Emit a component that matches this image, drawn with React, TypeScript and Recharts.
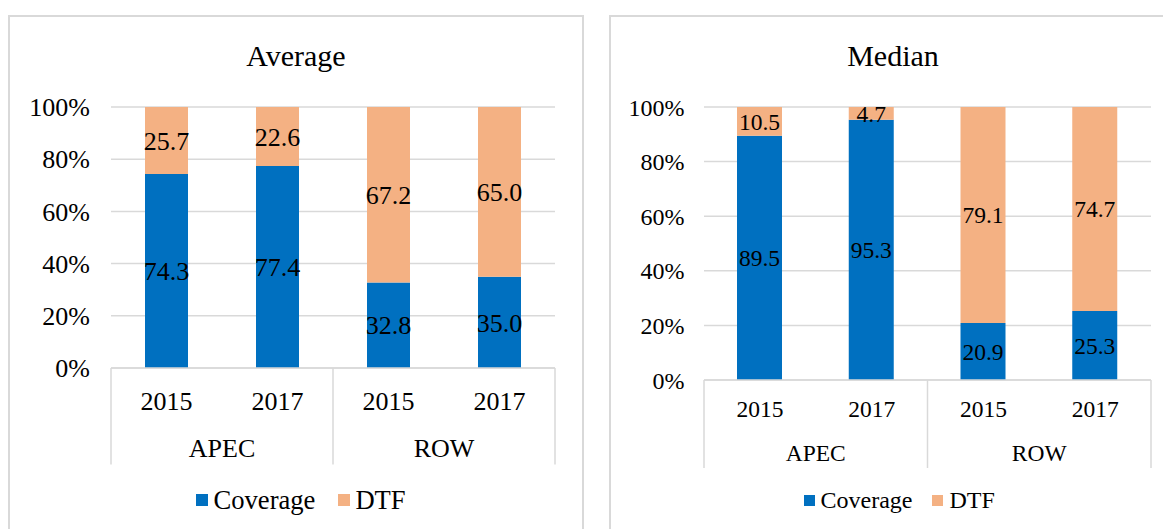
import React from 'react';
import { BarChart, Bar, XAxis, YAxis, CartesianGrid, Legend, LabelList } from 'recharts';

// ---- data ----
const years = ['2015', '2017', '2015', '2017'];
const groups = ['APEC', 'APEC', 'ROW', 'ROW'];
const avgCoverage = [74.3, 77.4, 32.8, 35.0];
const avgDTF = [25.7, 22.6, 67.2, 65.0];
const medCoverage = [89.5, 95.3, 20.9, 25.3];
const medDTF = [10.5, 4.7, 79.1, 74.7];
const yTicks = [0, 20, 40, 60, 80, 100];
const seriesNames = ['Coverage', 'DTF'];
const titles = ['Average', 'Median'];

const FONT = '"Liberation Serif", "Times New Roman", serif';
const GRID = '#d9d9d9';
const COLORS = ['#0070C0', '#F4B183'];

const build = (cov: number[], dtf: number[]) =>
  years.map((y, i) => ({ year: y, group: groups[i], [seriesNames[0]]: cov[i], [seriesNames[1]]: dtf[i] }));

type Cfg = {
  left: number; width: number; height: number;
  margin: { top: number; right: number; bottom: number; left: number };
  yAxisWidth: number; yTickMargin: number; yFont: number;
  xAxisHeight: number; yearDy: number; groupDy: number; lineLen: number; xFont: number;
  labelFont: number; barSize: number;
  legendLeft: number; legendTop: number; legendFont: number; icon: number; iconGap: number; itemGap: number;
  titleX: number;
};

const makeTick = (cfg: Cfg) => (props: any) => {
  const { x, y, payload } = props;
  const i: number = payload.index ?? props.index;
  const half: number = payload.offset ?? 0;
  const isGroupStart = i === 0 || groups[i] !== groups[i - 1];
  const isLast = i === years.length - 1;
  let count = 0;
  if (isGroupStart) {
    for (let k = i; k < groups.length && groups[k] === groups[i]; k++) count++;
  }
  return (
    <g>
      <text x={x} y={y + cfg.yearDy} textAnchor="middle" fontSize={cfg.xFont} fill="#000" fontFamily={FONT}>
        {payload.value}
      </text>
      {isGroupStart && (
        <>
          <line x1={x - half} x2={x - half} y1={y} y2={y + cfg.lineLen} stroke={GRID} strokeWidth={1.5} />
          <text x={x - half + count * half} y={y + cfg.groupDy} textAnchor="middle" fontSize={cfg.xFont} fill="#000" fontFamily={FONT}>
            {groups[i]}
          </text>
        </>
      )}
      {isLast && <line x1={x + half} x2={x + half} y1={y} y2={y + cfg.lineLen} stroke={GRID} strokeWidth={1.5} />}
    </g>
  );
};

const makeLegend = (cfg: Cfg) => (props: any) => {
  const payload = props.payload || [];
  return (
    <div
      style={{
        display: 'flex', alignItems: 'center', paddingLeft: cfg.legendLeft,
        fontFamily: FONT, fontSize: cfg.legendFont, lineHeight: '30px', color: '#000', height: 30,
      }}
    >
      {payload.map((p: any, i: number) => (
        <div key={i} style={{ display: 'flex', alignItems: 'center', marginRight: cfg.itemGap, whiteSpace: 'nowrap' }}>
          <span style={{ display: 'inline-block', width: cfg.icon, height: cfg.icon, background: p.color, marginRight: cfg.iconGap }} />
          <span>{p.value}</span>
        </div>
      ))}
    </div>
  );
};

const Panel = ({ cfg, cov, dtf }: { cfg: Cfg; cov: number[]; dtf: number[] }) => {
  const data = build(cov, dtf);
  const fmt = (v: any) => Number(v).toFixed(1);
  return (
    <div style={{ position: 'absolute', left: cfg.left, top: 0, width: cfg.width, height: cfg.height }}>
      <BarChart width={cfg.width} height={cfg.height} data={data} margin={cfg.margin}>
        <CartesianGrid horizontal vertical={false} stroke={GRID} strokeWidth={1.5} />
        <XAxis
          dataKey="year"
          height={cfg.xAxisHeight}
          axisLine={{ stroke: GRID, strokeWidth: 1.5 }}
          tickLine={false}
          tickSize={0}
          tickMargin={0}
          interval={0}
          tick={makeTick(cfg)}
        />
        <YAxis
          domain={[0, 100]}
          ticks={yTicks}
          interval={0}
          width={cfg.yAxisWidth}
          axisLine={false}
          tickLine={false}
          tickSize={0}
          tickMargin={cfg.yTickMargin}
          tickFormatter={(v: number) => `${v}%`}
          tick={{ fill: '#000', fontSize: cfg.yFont, fontFamily: FONT }}
        />
        <Legend
          verticalAlign="middle"
          align="center"
          layout="horizontal"
          wrapperStyle={{ top: cfg.legendTop, left: 0, width: cfg.width, height: 30 }}
          content={makeLegend(cfg)}
        />
        {seriesNames.map((s, idx) => (
          <Bar key={s} dataKey={s} stackId="a" fill={COLORS[idx]} barSize={cfg.barSize} isAnimationActive={false}>
            <LabelList dataKey={s} position="center" fill="#000" fontSize={cfg.labelFont} fontFamily={FONT} formatter={fmt} />
          </Bar>
        ))}
      </BarChart>
    </div>
  );
};

const leftCfg: Cfg = {
  left: 0, width: 600, height: 529,
  margin: { top: 107, right: 45, bottom: 61, left: 0 },
  yAxisWidth: 111, yTickMargin: 21, yFont: 26,
  xAxisHeight: 100, yearDy: 41.5, groupDy: 89, lineLen: 96.5, xFont: 26,
  labelFont: 26, barSize: 43,
  legendLeft: 196, legendTop: 484.5, legendFont: 26.6, icon: 12, iconGap: 5.5, itemGap: 22.5,
  titleX: 296,
};

const rightCfg: Cfg = {
  left: 600, width: 563, height: 529,
  margin: { top: 107, right: 12, bottom: 59, left: 0 },
  yAxisWidth: 104, yTickMargin: 19.5, yFont: 24,
  xAxisHeight: 90, yearDy: 37, groupDy: 81, lineLen: 88, xFont: 23.5,
  labelFont: 23.5, barSize: 45,
  legendLeft: 203.5, legendTop: 485, legendFont: 24, icon: 11, iconGap: 6, itemGap: 20,
  titleX: 893,
};

export default function App() {
  return (
    <div style={{ position: 'fixed', left: 0, top: 0, width: 1163, height: 529, overflow: 'hidden', background: '#fff' }}>
      <div style={{ position: 'absolute', left: 8, top: 15, width: 576, height: 600, border: `2px solid ${GRID}`, boxSizing: 'border-box' }} />
      <div style={{ position: 'absolute', left: 609, top: 15, width: 700, height: 600, border: `2px solid ${GRID}`, boxSizing: 'border-box' }} />
      <svg width={1163} height={529} style={{ position: 'absolute', left: 0, top: 0 }}>
        <text x={leftCfg.titleX} y={66} textAnchor="middle" fontSize={30} fontFamily={FONT} fill="#000">{titles[0]}</text>
        <text x={rightCfg.titleX} y={66} textAnchor="middle" fontSize={30} fontFamily={FONT} fill="#000">{titles[1]}</text>
      </svg>
      <Panel cfg={leftCfg} cov={avgCoverage} dtf={avgDTF} />
      <Panel cfg={rightCfg} cov={medCoverage} dtf={medDTF} />
    </div>
  );
}
